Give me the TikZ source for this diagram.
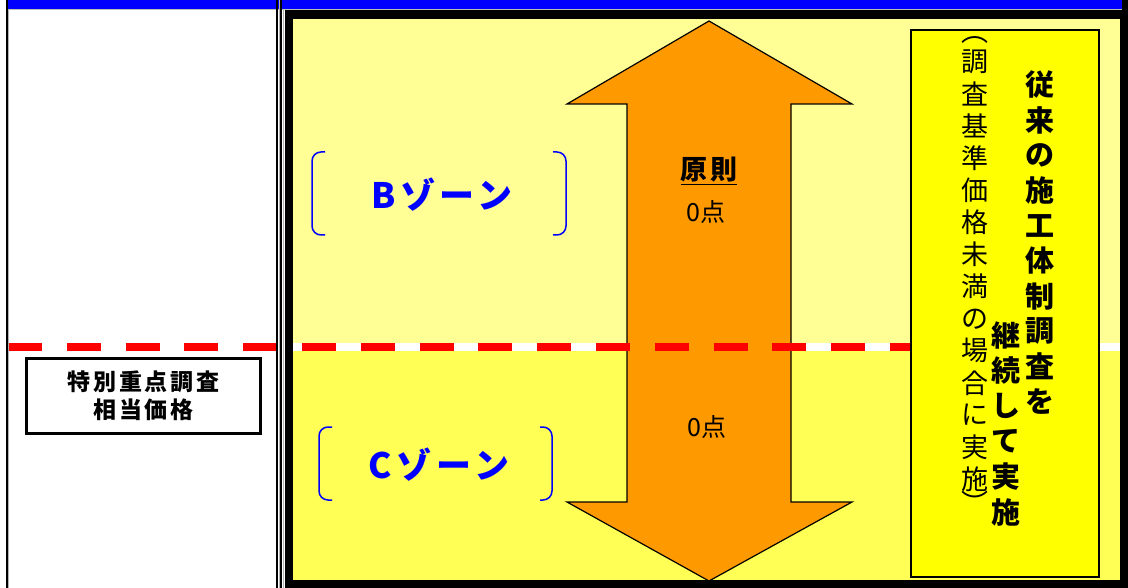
\documentclass[tikz,border=0pt]{standalone}
\usepackage{fontspec}
\newfontfamily\jp{Noto Sans CJK JP}
\definecolor{yelA}{RGB}{255,255,150}
\definecolor{yelB}{RGB}{255,255,85}
\definecolor{orng}{RGB}{255,153,0}
\definecolor{pureblue}{RGB}{0,0,255}
\definecolor{purered}{RGB}{255,0,0}
\definecolor{pureyel}{RGB}{255,255,0}
\tikzset{
  zonetext/.style={font=\jp\bfseries\fontsize{35}{40}\selectfont\addfontfeatures{LetterSpace=13}, text=pureblue, inner sep=0},
  bracket/.style={draw=pureblue, line width=1.5, rounded corners=9},
  vbold/.style={font=\jp\bfseries\fontsize{29}{35}\selectfont, inner sep=0},
  vreg/.style={font=\jp\fontsize{27}{32}\selectfont, inner sep=0},
  pointtext/.style={font=\jp\fontsize{25}{30}\selectfont, inner sep=0},
  rule/.style={black, line width=2},
}
\begin{document}
\begin{tikzpicture}[x=1pt,y=-1pt]
\useasboundingbox (0,0) rectangle (1128,588);
\fill[white] (0,0) rectangle (1128,588);
% top blue band
\fill[pureblue] (8,0) rectangle (1122,9);
\draw[black!25, line width=1] (8,9.5) -- (1122,9.5);
% big framed panel
\fill[black] (285,10) rectangle (1128,588);
\fill[black] (1122,0) rectangle (1128,10);
\fill[yelA] (293,19) rectangle (1120,343);
\fill[white] (293,343) rectangle (1120,351);
\fill[yelB] (293,351) rectangle (1120,580);
% zone brackets and labels
\draw[bracket] (325,152) -- (312,152) -- (312,235) -- (325,235);
\draw[bracket] (553,152) -- (566,152) -- (566,235) -- (553,235);
\node[zonetext] (bz) at (442,195) {Bゾーン};
\draw[bracket] (332,427) -- (319,427) -- (319,500) -- (332,500);
\draw[bracket] (540,427) -- (552,427) -- (552,500) -- (540,500);
\node[zonetext] (cz) at (439,465) {Cゾーン};
% double arrow
\draw[fill=orng, line width=1.2, line join=miter] (709,21) -- (852,104) -- (791,104) -- (791,502) -- (852,502) -- (709,581) -- (567,502) -- (627,502) -- (627,104) -- (567,104) -- cycle;
% red dashed boundary
\draw[purered, line width=8, dash pattern=on 34pt off 24.8pt] (8,347) -- (1120,347);
% vertical rules
\draw[rule] (7,0) -- (7,588);
\draw[black!30, line width=1] (8.5,10) -- (8.5,588);
\draw[rule] (277,0) -- (277,588);
\draw[black!30, line width=1] (279,0) -- (279,588);
\draw[rule] (281,0) -- (281,588);
\draw[black!30, line width=1] (283.5,10) -- (283.5,588);
% arrow texts
\node[font=\jp\bfseries\fontsize{27}{32}\selectfont\addfontfeatures{LetterSpace=8}, inner sep=0] (gensoku) at (709,170) {原則};
\draw[line width=1.5] ([yshift=-1.5pt]gensoku.south west) -- ([yshift=-1.5pt]gensoku.south east);
\node[pointtext] (p1) at (706,212) {0点};
\node[pointtext] (p2) at (707,427) {0点};
% right yellow box
\node[draw, fill=pureyel, line width=1.5, minimum width=188, minimum height=547, inner sep=0] (ybox) at (1005,303.5) {};
\foreach \c [count=\i] in {従,来,の,施,工,体,制,調,査,を}
  \node[vbold] (va\i) at (1040,{85+35.2*(\i-1)}) {\c};
\foreach \c [count=\i] in {継,続,し,て,実,施}
  \node[vbold] (vb\i) at (1006,{335+35.5*(\i-1)}) {\c};
\node[vreg] (vpl) at (975,40) {︵};
\foreach \c [count=\i] in {調,査,基,準,価,格,未,満,の,場,合,に,実,施}
  \node[vreg] (vc\i) at (975,{62+32.1*(\i-1)}) {\c};
\node[vreg] (vpr) at (975,502) {︶};
% left box
\node[draw, fill=white, line width=3, minimum width=234, minimum height=75, inner sep=0, align=center,
      font=\jp\bfseries\fontsize{23}{28}\selectfont\addfontfeatures{LetterSpace=12}] (lbox) at (143.5,396) {特別重点調査\\相当価格};
\end{tikzpicture}
\end{document}
